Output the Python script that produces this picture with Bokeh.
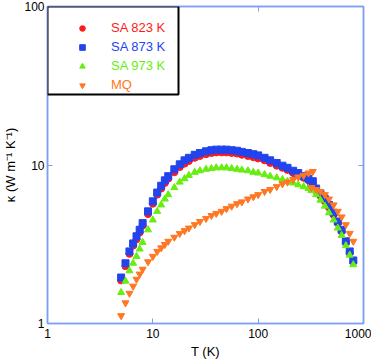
from bokeh.plotting import figure
from bokeh.models import LogAxis, Legend, LegendItem, FixedTicker, NumeralTickFormatter, BoxAnnotation
from bokeh.embed import file_html
from bokeh.resources import INLINE

# Temperatures (K), low-T measurement
t_low = [5, 5.5, 6, 6.5, 7, 7.5, 8, 9, 10, 11, 12, 13, 14, 16, 18, 20, 22, 25, 28, 32,
         36, 40, 45, 50, 56, 63, 70, 80, 90, 100, 115, 130, 150, 170, 190, 215, 240, 270, 300, 330]
# Temperatures (K), high-T measurement
t_high = [320, 355, 390, 430, 470, 520, 570, 620, 680, 740, 800]

sa823_low = [1.87, 2.3, 2.75, 3.1, 3.4, 3.75, 4.15, 4.9, 5.7, 6.5, 7.1, 7.7, 8.2, 9.0, 9.7, 10.2,
             10.6, 11.1, 11.4, 11.7, 11.9, 12.0, 12.0, 12.0, 11.9, 11.8, 11.6, 11.4, 11.2, 11.0,
             10.7, 10.3, 9.9, 9.6, 9.3, 8.9, 8.6, 8.3, 8.0, 7.7]
sa873_low = [1.95, 2.4, 2.85, 3.2, 3.55, 3.9, 4.3, 5.1, 5.9, 6.7, 7.4, 8.0, 8.5, 9.4, 10.1, 10.7,
             11.1, 11.6, 11.9, 12.2, 12.4, 12.5, 12.5, 12.5, 12.4, 12.3, 12.1, 11.9, 11.7, 11.5,
             11.1, 10.7, 10.3, 9.9, 9.6, 9.2, 8.9, 8.5, 8.2, 7.9]
sa973_low = [1.57, 1.85, 2.15, 2.4, 2.65, 2.95, 3.25, 3.9, 4.5, 5.1, 5.6, 6.1, 6.5, 7.2, 7.8, 8.2,
             8.6, 9.0, 9.2, 9.4, 9.5, 9.6, 9.6, 9.6, 9.5, 9.4, 9.3, 9.2, 9.0, 8.9,
             8.7, 8.5, 8.3, 8.1, 7.9, 7.7, 7.5, 7.3, 7.1, 6.9]
mq_low = [1.12, 1.35, 1.55, 1.72, 1.9, 2.05, 2.2, 2.45, 2.65, 2.85, 3.0, 3.15, 3.3, 3.5, 3.7, 3.85,
          4.0, 4.2, 4.4, 4.6, 4.8, 4.95, 5.1, 5.3, 5.5, 5.7, 5.85, 6.1, 6.3, 6.5,
          6.8, 7.0, 7.3, 7.6, 7.8, 8.1, 8.4, 8.6, 8.9, 9.1]

sa823_high = [7.4, 6.9, 6.4, 5.9, 5.4, 4.85, 4.3, 3.8, 3.25, 2.8, 2.45]
sa873_high = [7.6, 7.1, 6.6, 6.1, 5.6, 5.0, 4.4, 3.9, 3.3, 2.85, 2.5]
sa973_high = [6.9, 6.5, 6.0, 5.5, 5.0, 4.5, 4.0, 3.6, 3.1, 2.7, 2.35]
mq_high = [7.2, 7.0, 6.8, 6.5, 6.1, 5.6, 5.1, 4.7, 4.2, 3.7, 3.3]

labels = ["SA 823 K", "SA 873 K", "SA 973 K", "MQ"]
colors = ["#ff1a1a", "#2244ee", "#66ee11", "#ff7722"]
markers = ["circle", "square", "triangle", "inverted_triangle"]
x_ticks = [1, 10, 100, 1000]
y_ticks = [1, 10, 100]

AX = "#7f9ff7"
FONT = "Liberation Sans"
FW, FH = 316, 317
BOX_W, BOX_H = 131, 88  # legend box size in px

p = figure(frame_width=FW, frame_height=FH, x_axis_type="log", y_axis_type="log",
           x_range=(1, 1000), y_range=(1, 100), output_backend="svg",
           toolbar_location=None, min_border_left=30, min_border_right=8,
           min_border_top=6, min_border_bottom=0)
p.grid.visible = False
p.outline_line_color = AX
p.outline_line_width = 1.5
p.background_fill_color = "white"
p.border_fill_color = "white"

series_low = [sa823_low, sa873_low, sa973_low, mq_low]
series_high = [sa823_high, sa873_high, sa973_high, mq_high]
rends = []
for lab, col, mk, lo, hi in zip(labels, colors, markers, series_low, series_high):
    r1 = p.scatter(t_low, lo, marker=mk, size=7, fill_color=col, line_color=col)
    p.scatter(t_high, hi, marker=mk, size=7, fill_color=col, line_color=col)
    rends.append(r1)

for ax in [p.xaxis[0], p.yaxis[0]]:
    ax.axis_line_color = AX
    ax.axis_line_width = 1.5
    ax.major_tick_line_color = AX
    ax.major_tick_in = 5
    ax.major_tick_out = 0
    ax.minor_tick_line_color = None
    ax.major_label_text_font = FONT
    ax.major_label_text_font_size = "12px"
    ax.major_label_text_color = "black"
    ax.axis_label_text_font = FONT
    ax.axis_label_text_font_size = "13px"
    ax.axis_label_text_font_style = "normal"
    ax.axis_label_text_color = "black"
    ax.formatter = NumeralTickFormatter(format="0")

p.xaxis[0].ticker = FixedTicker(ticks=x_ticks)
p.yaxis[0].ticker = FixedTicker(ticks=y_ticks)
p.xaxis[0].axis_label = "T (K)"
p.yaxis[0].axis_label = "κ (W m⁻¹ K⁻¹)"
p.xaxis[0].major_label_standoff = 5
p.yaxis[0].major_label_standoff = 3
p.xaxis[0].axis_label_standoff = 3
p.yaxis[0].axis_label_standoff = 3

for side, tk in [("right", y_ticks), ("above", x_ticks)]:
    a = LogAxis(ticker=FixedTicker(ticks=tk))
    a.axis_line_color = AX
    a.axis_line_width = 1.5
    a.major_tick_line_color = AX
    a.major_tick_in = 5
    a.major_tick_out = 0
    a.minor_tick_line_color = None
    a.major_label_text_font_size = "1px"
    a.major_label_text_alpha = 0
    a.major_label_standoff = 0
    p.add_layout(a, side)

# legend box, anchored at the frame's top-left corner (size converted from px)
box = BoxAnnotation(left=1, top=100,
                    right=10 ** (3 * BOX_W / FW), bottom=10 ** (2 - 2 * BOX_H / FH),
                    fill_color="white", fill_alpha=1,
                    line_color="black", line_alpha=1, line_width=2)
p.add_layout(box)

ROW = 19
for i, (lab, col, r) in enumerate(zip(labels, colors, rends)):
    lg = Legend(items=[LegendItem(label=lab, renderers=[r])],
                location=(6, FH - 11.5 - ROW * i - ROW), margin=0, padding=0, spacing=0,
                glyph_width=58, glyph_height=14, label_height=18, label_standoff=0,
                border_line_color=None, background_fill_alpha=0,
                label_text_font=FONT, label_text_font_size="13px",
                label_text_color=col)
    p.add_layout(lg)

open("out.html", "w").write(file_html(p, INLINE))
